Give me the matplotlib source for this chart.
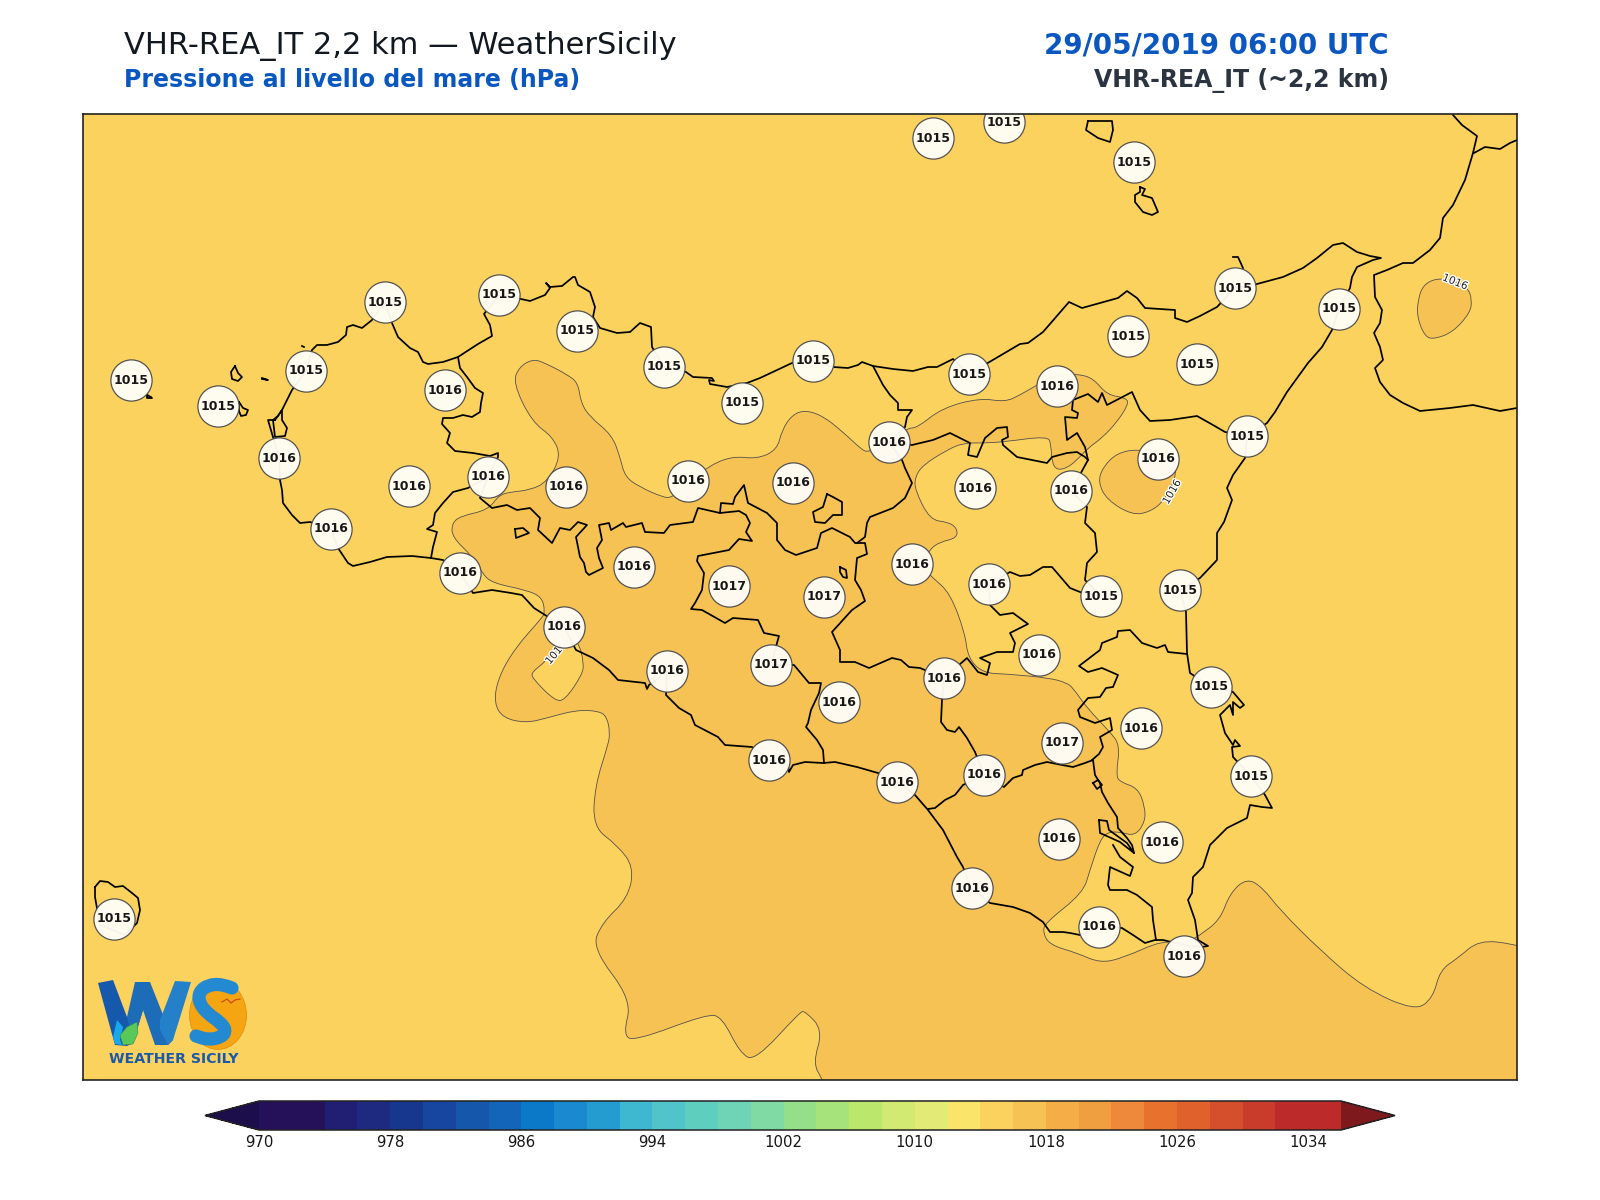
import matplotlib
matplotlib.use("Agg")
import matplotlib.pyplot as plt
import matplotlib.patheffects as pe
from matplotlib.cm import ScalarMappable
from matplotlib.colors import BoundaryNorm, ListedColormap
from matplotlib.patches import Ellipse, PathPatch, Polygon
from matplotlib.path import Path

# Map units are the pixels of the source picture, there is no projection info to go on
XLIM = (83, 1517)
YLIM = (1080, 114)

levels = list(range(970, 1038, 2))
cbar_ticks = list(range(970, 1035, 8))
level_colors = ["#241159", "#241159", "#211F73", "#1E2A80", "#17378F", "#1746A0", "#1557AB", "#1265B9",
                "#0C78C8", "#1A89CF", "#259CD0", "#3DB8D0", "#50C4C8", "#5ECEBF", "#6FD4B5", "#80DAA3",
                "#95DF8B", "#A6E37B", "#BCE76D", "#D2EA72", "#E3EB76", "#FBE46A", "#FCD25F", "#F6C254",
                "#F5AE47", "#F09F40", "#EE883A", "#E8712D", "#E0612B", "#D54F2C", "#C93C2B", "#BC2A2A",
                "#BC2A2A"]

# Station readings
station_x = [131, 218, 306, 385, 499, 577, 664, 742, 813, 933, 1004, 1134, 969, 1128, 1197, 1235, 1339, 1247,
             445, 279, 409, 488, 566, 688, 793, 889, 1057, 975, 1071, 1158, 331, 460, 634, 729, 824, 912, 989,
             1101, 1180, 564, 667, 771, 839, 944, 1039, 1211, 1062, 1141, 769, 897, 984, 1251, 1059, 1162, 972,
             1099, 1184, 114]
station_y = [380, 406, 371, 302, 295, 331, 367, 403, 361, 138, 122, 162, 374, 336, 364, 288, 309, 436,
             390, 458, 486, 477, 487, 481, 483, 442, 386, 488, 491, 459, 529, 573, 567, 586, 597, 564, 584,
             596, 590, 627, 671, 665, 702, 678, 655, 687, 743, 728, 760, 782, 775, 776, 839, 842, 888,
             927, 956, 919]
station_p = [1015, 1015, 1015, 1015, 1015, 1015, 1015, 1015, 1015, 1015, 1015, 1015, 1015, 1015, 1015, 1015, 1015, 1015,
             1016, 1016, 1016, 1016, 1016, 1016, 1016, 1016, 1016, 1016, 1016, 1016, 1016, 1016, 1016, 1017, 1017, 1016, 1016,
             1015, 1015, 1016, 1016, 1017, 1016, 1016, 1016, 1015, 1017, 1016, 1016, 1016, 1016, 1015, 1016, 1016, 1016,
             1016, 1016, 1015]

# 1016 hPa isobar, area above it
iso_main = [(533, 359), (545, 363), (568, 375), (578, 383), (581, 403), (590, 417), (612, 435), (620, 457), (625, 477),
            (640, 487), (662, 497), (672, 498), (690, 482), (707, 467), (732, 456), (757, 459), (777, 450), (782, 430),
            (792, 415), (805, 410), (823, 416), (843, 432), (862, 450), (868, 452), (889, 445), (907, 428), (917, 428),
            (942, 408), (980, 398), (1005, 402), (1020, 395), (1037, 385), (1057, 374), (1077, 374), (1093, 378),
            (1107, 395), (1127, 398), (1128, 405), (1117, 422), (1102, 438), (1088, 448), (1077, 460), (1067, 468),
            (1057, 470), (1052, 463), (1051, 445), (1048, 436), (1003, 442), (983, 443), (963, 443), (947, 450),
            (923, 465), (915, 477), (915, 490), (930, 520), (948, 522), (957, 528), (957, 538), (940, 542), (930, 549),
            (920, 565), (933, 578), (950, 593), (965, 633), (968, 658), (983, 673), (1007, 674), (1050, 678),
            (1067, 683), (1073, 688), (1087, 708), (1110, 732), (1120, 745), (1116, 775), (1120, 782), (1138, 788),
            (1145, 807), (1145, 822), (1135, 836), (1120, 832), (1108, 832), (1100, 840), (1090, 870), (1083, 893),
            (1045, 923), (1043, 933), (1050, 945), (1077, 953), (1100, 963), (1123, 958), (1163, 940), (1184, 945),
            (1200, 935), (1220, 920), (1230, 893), (1247, 878), (1263, 888), (1280, 910), (1320, 950), (1364, 988),
            (1415, 1011), (1433, 998), (1440, 970), (1458, 958), (1479, 940), (1514, 944), (1530, 950), (1530, 1000),
            (1530, 1090), (1530, 1095), (1525, 1095), (1000, 1095), (830, 1095), (826, 1090), (822, 1079), (813, 1063),
            (823, 1030), (805, 1011), (800, 1012), (755, 1061), (740, 1053),
            (722, 1017), (707, 1014), (635, 1041), (623, 1035), (632, 1000), (592, 948), (602, 923), (628, 898),
            (634, 867), (617, 845), (593, 827), (595, 786), (608, 745), (610, 733), (607, 717), (599, 711), (576, 710),
            (547, 718), (526, 723), (503, 718), (494, 703), (498, 678), (515, 648), (542, 618), (545, 612), (542, 597),
            (526, 590), (492, 583), (482, 573), (473, 557), (452, 537), (452, 523), (461, 516), (488, 510), (499, 495),
            (511, 492), (530, 490), (547, 482), (561, 457), (553, 437), (532, 422), (513, 383), (519, 367)]
iso_hole = [(545, 662), (532, 672), (532, 678), (555, 701), (565, 700), (582, 675), (584, 663), (578, 640), (565, 640)]
iso_east = [(1138, 449), (1117, 453), (1103, 467), (1098, 482), (1107, 500), (1132, 515), (1150, 512), (1165, 500),
            (1178, 472), (1170, 455)]
iso_calabria = [(1437, 278), (1423, 285), (1418, 300), (1417, 317), (1425, 337), (1435, 339), (1453, 332), (1470, 313),
                (1472, 300), (1468, 288), (1455, 281)]
iso_label_x = [556, 1172, 1455]
iso_label_y = [653, 492, 282]
iso_label_rot = [50, 60, -22]

# Coast of Sicily
coast_sicily = [(275, 420), (282, 410), (287, 400), (292, 390), (306, 371), (312, 350), (317, 345), (327, 345), (338, 342),
                (346, 335), (347, 327), (353, 325), (362, 328), (372, 320), (385, 302), (392, 323), (398, 337), (410, 348),
                (418, 352), (423, 362), (428, 364), (443, 362), (458, 357), (478, 344), (492, 336), (490, 325), (484, 314),
                (499, 295), (521, 299), (530, 301), (545, 295), (550, 288), (546, 283), (550, 287), (562, 286), (573, 277),
                (575, 277), (578, 285), (590, 292), (595, 307), (593, 317), (600, 328), (617, 333), (630, 332), (640, 323),
                (651, 327), (652, 347), (664, 367), (686, 372), (693, 377), (712, 378), (714, 381), (709, 380), (710, 384),
                (727, 387), (747, 383), (760, 378), (792, 363), (813, 361), (833, 367), (848, 368), (858, 365), (862, 362),
                (873, 366), (893, 369), (913, 371), (928, 367), (937, 367), (953, 359), (969, 374), (1020, 344), (1028, 343),
                (1043, 332), (1069, 302), (1082, 308), (1107, 301), (1118, 298), (1127, 291), (1137, 298), (1145, 308),
                (1175, 310), (1175, 318), (1187, 322), (1200, 316), (1217, 307), (1235, 288), (1257, 284), (1283, 277),
                (1303, 268), (1317, 258), (1333, 245), (1343, 243), (1357, 252), (1370, 256), (1381, 258), (1373, 260),
                (1357, 267), (1352, 277), (1350, 288), (1339, 309), (1332, 330), (1322, 347), (1308, 363), (1287, 392),
                (1275, 412), (1267, 423), (1247, 436), (1245, 458), (1233, 475), (1227, 488), (1232, 500), (1224, 522),
                (1217, 533), (1217, 560), (1200, 578), (1180, 590), (1186, 612), (1187, 653), (1190, 673), (1211, 687),
                (1233, 692), (1244, 705), (1240, 708), (1233, 702), (1233, 715), (1230, 705), (1220, 715), (1225, 733),
                (1233, 745), (1235, 740), (1240, 746), (1232, 747), (1233, 757), (1251, 776), (1265, 795), (1272, 808),
                (1262, 807), (1250, 805), (1247, 818), (1227, 828), (1210, 845), (1203, 867), (1193, 877), (1192, 893),
                (1188, 900), (1195, 920), (1198, 940), (1208, 946), (1202, 947), (1184, 945), (1163, 940), (1155, 940),
                (1145, 943), (1133, 935), (1122, 928), (1099, 927), (1080, 935), (1070, 933), (1063, 932), (1050, 932),
                (1043, 922), (1030, 913), (1013, 907), (990, 903), (971, 888), (963, 867), (957, 857), (943, 830), (928, 810),
                (915, 795), (897, 782), (878, 773), (857, 767), (835, 762), (823, 763), (805, 762), (793, 765), (789, 772),
                (788, 765), (769, 760), (752, 747), (725, 745), (718, 737), (695, 725), (691, 715), (679, 708), (666, 695),
                (667, 671), (649, 685), (647, 689), (645, 683), (618, 680), (609, 670), (593, 658), (576, 650), (564, 627),
                (534, 608), (522, 595), (511, 593), (492, 590), (473, 593), (460, 573), (443, 560), (431, 558), (412, 556),
                (387, 557), (370, 562), (353, 566), (348, 563), (338, 548), (331, 529), (310, 522), (300, 523), (292, 515),
                (283, 503), (282, 490), (280, 480), (279, 458), (273, 437), (268, 420), (275, 420)]

# Province borders
border_tp_pa = [(458, 357), (460, 368), (467, 377), (475, 388), (483, 393), (481, 403), (480, 412), (472, 417), (463, 415),
                (453, 418), (443, 418), (442, 424), (450, 433), (447, 443), (455, 451), (473, 453), (490, 456), (498, 453),
                (498, 457), (488, 477)]
border_tp_ag = [(488, 477), (468, 488), (453, 492), (443, 503), (435, 513), (433, 525), (427, 529), (437, 532), (433, 547), (431, 558)]
border_pa_ag = [(488, 477), (480, 498), (492, 508), (507, 505), (517, 510), (530, 508), (540, 518), (538, 530), (552, 543),
                (560, 528), (570, 530), (578, 522), (587, 525), (576, 537), (580, 557), (584, 563), (586, 572), (589, 575),
                (603, 568), (599, 558), (597, 548), (602, 540), (599, 525), (609, 523), (611, 530), (623, 523), (626, 527),
                (642, 523), (645, 532), (664, 533), (670, 525), (693, 522), (698, 508), (720, 513), (739, 511), (746, 515),
                (750, 523), (746, 532), (752, 541), (739, 539), (729, 550), (698, 556), (697, 561), (704, 573), (702, 590),
                (695, 603), (691, 609), (702, 610), (725, 623), (733, 618), (758, 620), (764, 633), (779, 636), (777, 643),
                (771, 665), (794, 665), (809, 683), (821, 683), (819, 693), (811, 710), (808, 723), (806, 727), (817, 740),
                (823, 750), (824, 763)]
border_pa_en = [(720, 513), (721, 503), (733, 504), (735, 497), (744, 485), (748, 503), (767, 513), (777, 523), (777, 540),
                (785, 550), (796, 555), (817, 548), (821, 533), (832, 528), (850, 537), (855, 543), (865, 543), (867, 554),
                (857, 558), (855, 580), (861, 590), (865, 601), (852, 610), (832, 632), (840, 650), (840, 662), (855, 662),
                (869, 668), (892, 658), (901, 660), (909, 667), (920, 668), (944, 678)]
border_en_ct = [(944, 678), (967, 658), (978, 672), (987, 675), (990, 663), (980, 658), (997, 652), (1013, 652), (1015, 643),
                (1010, 633), (1028, 624), (1013, 613), (1000, 615), (990, 605), (989, 584), (1010, 572), (1020, 576), (1030, 575),
                (1043, 567), (1052, 567), (1070, 588), (1080, 592), (1101, 596)]
border_ct_me_a = [(1101, 596), (1085, 580), (1087, 563), (1097, 552), (1095, 533), (1085, 523), (1087, 507), (1071, 491),
                  (1088, 460), (1085, 447), (1077, 433), (1067, 440), (1065, 417), (1077, 418), (1078, 413), (1072, 410),
                  (1073, 400), (1088, 394), (1098, 402), (1102, 393), (1107, 405), (1132, 392), (1140, 410), (1150, 421),
                  (1170, 420), (1197, 416), (1213, 425), (1225, 432), (1247, 436)]
border_en_me = [(889, 442), (912, 445), (933, 440), (950, 433), (970, 443), (968, 455), (977, 457), (985, 438), (997, 428),
                (1007, 427), (1008, 437), (1002, 440), (1003, 445), (1017, 457), (1047, 463), (1052, 457), (1067, 453),
                (1077, 452), (1085, 457), (1088, 460)]
border_pa_me = [(873, 366), (883, 385), (890, 395), (898, 403), (898, 410), (912, 410), (907, 417), (905, 427), (889, 442),
                (902, 460), (905, 468), (912, 483), (905, 498), (893, 508), (870, 517), (867, 523), (865, 537), (857, 543)]
border_cl_ct = [(944, 678), (942, 700), (941, 722), (947, 730), (955, 732), (959, 727), (967, 738), (975, 752), (984, 775),
                (963, 785), (955, 795), (945, 800), (935, 808), (928, 809)]
border_rg_ct = [(984, 775), (1004, 787), (1013, 778), (1022, 775), (1023, 770), (1035, 765), (1047, 762), (1062, 765), (1073, 767),
                (1085, 763), (1093, 760), (1095, 775), (1100, 783), (1102, 792), (1108, 803), (1117, 817), (1118, 828), (1127, 838),
                (1132, 845), (1134, 853)]
border_ct_sr = [(1187, 654), (1168, 652), (1165, 645), (1157, 648), (1142, 643), (1130, 630), (1118, 631), (1117, 637), (1102, 643),
                (1100, 650), (1079, 666), (1088, 672), (1102, 668), (1118, 675), (1113, 687), (1106, 688), (1100, 697), (1088, 698),
                (1078, 710), (1080, 717), (1095, 723), (1110, 718), (1112, 730), (1100, 737), (1103, 747), (1099, 754), (1092, 760)]
border_rg_sr = [(1113, 845), (1120, 857), (1133, 867), (1130, 876), (1110, 867), (1108, 885), (1110, 890), (1127, 890), (1137, 895),
                (1152, 907), (1153, 920), (1156, 940)]
border_lakes = [(1099, 820), (1107, 821), (1109, 830), (1127, 843), (1134, 853), (1120, 842), (1100, 833), (1099, 820)]
milazzo = [(1243, 268), (1238, 257), (1233, 257)]

# Closed outlines: lakes and islands
lake_pozzillo = [(827, 494), (833, 497), (842, 502), (842, 515), (833, 515), (825, 523), (815, 522), (813, 512), (823, 507), (827, 494)]
lake_west = [(515, 529), (523, 528), (529, 533), (516, 538), (515, 529)]
lake_small = [(840, 567), (846, 570), (847, 578), (843, 577), (840, 572), (840, 567)]
lake_south = [(1093, 783), (1098, 780), (1102, 785), (1097, 789), (1093, 783)]
stagnone = [(273, 420), (278, 416), (282, 410), (282, 420), (287, 428), (285, 436), (275, 437), (273, 420)]
favignana = [(239, 402), (243, 408), (248, 410), (246, 415), (241, 416), (239, 411), (239, 402)]
levanzo = [(235, 366), (238, 373), (242, 377), (238, 381), (232, 379), (231, 372), (235, 366)]
marettimo = [(147, 395), (151, 397), (152, 398), (147, 398), (147, 395)]
formica = [(262, 378), (265, 379), (268, 380), (262, 379)]
ustica = [(302, 346), (304, 347)]
salina = [(1088, 121), (1112, 121), (1113, 130), (1110, 142), (1098, 138), (1086, 130), (1088, 121)]
lipari = [(1140, 187), (1145, 189), (1142, 195), (1152, 198), (1158, 212), (1152, 215), (1143, 212), (1135, 202), (1135, 195), (1140, 192), (1140, 187)]
pantelleria = [(95, 887), (100, 881), (108, 882), (115, 887), (123, 886), (132, 893), (138, 898), (140, 910), (137, 923), (125, 935),
               (100, 925), (95, 897), (95, 887)]

# Calabria
coast_calabria = [(1453, 115), (1462, 125), (1477, 136), (1473, 153), (1465, 180), (1453, 205), (1443, 218), (1440, 238), (1430, 250),
                  (1413, 263), (1403, 263), (1387, 270), (1374, 275), (1375, 297), (1382, 310), (1380, 323), (1374, 333), (1380, 347),
                  (1383, 360), (1375, 368), (1380, 382), (1390, 395), (1403, 403), (1420, 411), (1450, 408), (1473, 405), (1500, 411),
                  (1517, 408)]
border_calabria = [(1474, 153), (1485, 147), (1500, 149), (1510, 143), (1517, 140)]

coast_lines = [coast_sicily, border_tp_pa, border_tp_ag, border_pa_ag, border_pa_en, border_en_ct, border_ct_me_a, border_en_me,
               border_pa_me, border_cl_ct, border_rg_ct, border_ct_sr, border_rg_sr, border_lakes, milazzo, lake_pozzillo, lake_west,
               lake_small, lake_south, stagnone, favignana, levanzo, marettimo, formica, ustica, salina, lipari, pantelleria,
               coast_calabria, border_calabria]

# Logo pieces
logo_w_left = [(98, 983), (113, 980), (127, 1017), (143, 1010), (133, 1043), (127, 1046), (115, 1045), (110, 1027)]
logo_w_mid = [(127, 1017), (135, 982), (150, 982), (173, 1040), (168, 1045), (155, 1045), (143, 1010), (133, 1043)]
logo_w_right = [(160, 1020), (175, 981), (191, 982), (173, 1040), (168, 1045), (160, 1030)]
logo_drop = [(113, 1037), (117, 1020), (123, 1027), (120, 1040), (122, 1045), (115, 1044)]
logo_leaf = [(120, 1035), (127, 1027), (137, 1022), (138, 1033), (133, 1044), (123, 1045)]
logo_s = [(232, 988), (222, 984), (208, 985), (199, 992), (199, 1003), (208, 1014), (220, 1022), (226, 1030), (222, 1037), (208, 1040), (196, 1036)]
logo_bird_x = [222, 227, 231, 235, 240]
logo_bird_y = [1002, 999, 1003, 1000, 999]


def as_xy(points):
    return [p[0] for p in points], [p[1] for p in points]


def mid(a, b):
    return ((a[0] + b[0]) / 2, (a[1] + b[1]) / 2)


def curved_ring(points):
    # quadratic curves with the traced points as control points, contours are smooth in the original
    verts = [mid(points[-1], points[0])]
    codes = [Path.MOVETO]
    for i, p in enumerate(points):
        verts += [p, mid(p, points[(i + 1) % len(points)])]
        codes += [Path.CURVE3, Path.CURVE3]
    return Path(verts, codes)


def curved_line(points):
    verts = [points[0]]
    codes = [Path.MOVETO]
    for i in range(1, len(points) - 1):
        verts += [points[i], mid(points[i], points[i + 1])]
        codes += [Path.CURVE3, Path.CURVE3]
    verts.append(points[-1])
    codes.append(Path.LINETO)
    return Path(verts, codes)


fig = plt.figure(figsize=(16, 12), dpi=100)
ax = fig.add_axes([83 / 1600, 1 - 1080 / 1200, 1434 / 1600, 966 / 1200])

cmap = ListedColormap(level_colors)
cmap.set_under("#1B0E4A")
cmap.set_over("#7E1A1E")
norm = BoundaryNorm(levels, cmap.N)

ax.set_facecolor(cmap(norm(1015)))
above = cmap(norm(1017))
below = cmap(norm(1015))
for ring in [iso_main, iso_east, iso_calabria]:
    ax.add_patch(PathPatch(curved_ring(ring), facecolor=above, edgecolor="#55504a", linewidth=0.6, zorder=2))
ax.add_patch(PathPatch(curved_ring(iso_hole), facecolor=below, edgecolor="#55504a", linewidth=0.6, zorder=2))

for lx, ly, lr in zip(iso_label_x, iso_label_y, iso_label_rot):
    ax.text(lx, ly, "1016", fontsize=7.5, rotation=lr, rotation_mode="anchor", ha="center", va="center", color="#222222", zorder=3,
            path_effects=[pe.withStroke(linewidth=2, foreground="white")])

for line in coast_lines:
    xs, ys = as_xy(line)
    ax.plot(xs, ys, color="black", linewidth=1.25, solid_joinstyle="round", zorder=4)

ax.scatter(station_x, station_y, s=880, facecolor="#FFFDF6", edgecolor="#4d4d4d", linewidth=0.9, alpha=0.96, zorder=5)
for sx, sy, sp in zip(station_x, station_y, station_p):
    ax.text(sx, sy, str(sp), fontsize=9, fontweight="bold", ha="center", va="center", color="#161616", zorder=6)

# Logo
ax.add_patch(Ellipse((218, 1015), 57, 69, facecolor="#F5A511", edgecolor="#E08A10", linewidth=0.5, zorder=7))
ax.add_patch(PathPatch(curved_line(logo_s), facecolor="none", edgecolor="#2389D0", linewidth=9.5, capstyle="round", zorder=8))
ax.plot(logo_bird_x, logo_bird_y, color="#C8501A", linewidth=0.9, zorder=9)
ax.add_patch(Polygon(logo_w_left, closed=True, facecolor="#1659AC", zorder=7))
ax.add_patch(Polygon(logo_w_mid, closed=True, facecolor="#1D6CB8", zorder=7))
ax.add_patch(Polygon(logo_w_right, closed=True, facecolor="#2480C8", zorder=7))
ax.add_patch(Polygon(logo_drop, closed=True, facecolor="#18A8EE", zorder=8))
ax.add_patch(Polygon(logo_leaf, closed=True, facecolor="#58C858", edgecolor="#3C8A50", linewidth=0.4, zorder=9))
ax.text(174, 1059, "WEATHER SICILY", fontsize=10.2, fontweight="bold", ha="center", va="center", color="#1A58A8", zorder=7)

ax.set_xlim(XLIM)
ax.set_ylim(YLIM)
ax.set_xticks([])
ax.set_yticks([])
for spine in ax.spines.values():
    spine.set_linewidth(1.2)
    spine.set_color("#222222")
    spine.set_zorder(10)

# Colour bar, the axes has to hold the two end triangles too
cax = fig.add_axes([205 / 1600, 1 - 1130 / 1200, 1190 / 1600, 29 / 1200])
cbar = fig.colorbar(ScalarMappable(norm=norm, cmap=cmap), cax=cax, orientation="horizontal", extend="both",
                    extendfrac=0.05, spacing="proportional", ticks=cbar_ticks)
cbar.ax.minorticks_off()
cbar.ax.tick_params(length=0, labelsize=10.7, pad=3.5, colors="#161616")
cbar.ax.xaxis.set_ticklabels([str(t) for t in cbar_ticks])
cbar.outline.set_linewidth(1.1)
cbar.outline.set_edgecolor("#222222")

# Titles
fig.text(124 / 1600, 1 - 54 / 1200, "VHR-REA_IT 2,2 km \u2014 WeatherSicily", fontsize=22, color="#111820", ha="left", va="baseline")
fig.text(124 / 1600, 1 - 87 / 1200, "Pressione al livello del mare (hPa)", fontsize=17, fontweight="bold", color="#0B57C0", ha="left", va="baseline")
fig.text(1389 / 1600, 1 - 53 / 1200, "29/05/2019 06:00 UTC", fontsize=20, fontweight="bold", color="#0B57C0", ha="right", va="baseline")
fig.text(1389 / 1600, 1 - 87 / 1200, "VHR-REA_IT (~2,2 km)", fontsize=17, fontweight="bold", color="#2B3440", ha="right", va="baseline")

fig.savefig("out.png", dpi=100)
